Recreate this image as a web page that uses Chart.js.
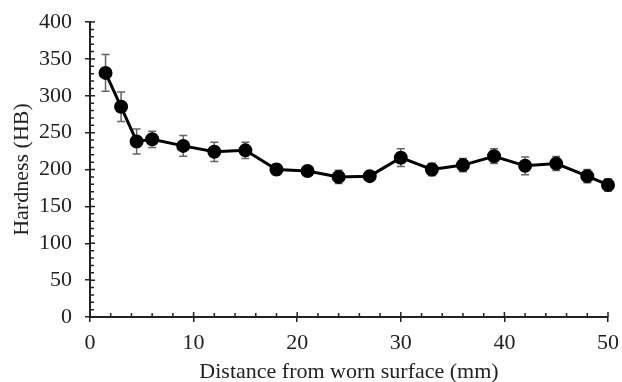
<!DOCTYPE html>
<html>
<head>
<meta charset="utf-8">
<script src="https://cdn.jsdelivr.net/npm/chart.js@4"></script>
<style>
  html, body { margin: 0; padding: 0; background: #fff; }
  #wrap { width: 622px; height: 382px; }
</style>
</head>
<body>
<div id="wrap"><canvas id="graph" width="622" height="382"></canvas></div>
<script>
// distance from worn surface (mm)
var distances = [1.5, 3, 4.5, 6, 9, 12, 15, 18, 21, 24, 27, 30, 33, 36, 39, 42, 45, 48, 50];
// hardness (HB)
var hardness = [331, 285, 238, 241, 232, 224, 226, 200, 198, 190, 191, 216, 200, 206, 218, 205, 208, 191, 179];
// +/- error
var errors = [25, 20, 17, 11, 14, 13, 11, 7, 4, 9, 5, 12, 8.5, 9, 10, 12, 9.5, 9, 8];

var xTicks = [0, 10, 20, 30, 40, 50];
var yTicks = [0, 50, 100, 150, 200, 250, 300, 350, 400];

var points = distances.map(function (d, i) { return { x: d, y: hardness[i] }; });

var errorBars = {
	id: "errorBars",
	beforeDatasetsDraw: function (chart) {
		var ctx = chart.ctx, xs = chart.scales.x, ys = chart.scales.y;
		ctx.save();
		ctx.strokeStyle = "#666";
		ctx.lineWidth = 1.5;
		for (var i = 0; i < distances.length; i++) {
			var px = xs.getPixelForValue(distances[i]);
			var top = ys.getPixelForValue(hardness[i] + errors[i]);
			var bot = ys.getPixelForValue(hardness[i] - errors[i]);
			ctx.beginPath();
			ctx.moveTo(px, top); ctx.lineTo(px, bot);
			ctx.moveTo(px - 4, top); ctx.lineTo(px + 4, top);
			ctx.moveTo(px - 4, bot); ctx.lineTo(px + 4, bot);
			ctx.stroke();
		}
		ctx.restore();
	}
};

// inner tick marks (major and minor) like the original spreadsheet chart
var innerTicks = {
	id: "innerTicks",
	afterDraw: function (chart) {
		var ctx = chart.ctx, xs = chart.scales.x, ys = chart.scales.y;
		var x0 = xs.left, y0 = ys.bottom;
		ctx.save();
		ctx.strokeStyle = "#222";
		ctx.lineWidth = 1.5;
		ctx.beginPath();
		for (var v = 0; v <= 50; v += 2) {
			var px = xs.getPixelForValue(v);
			var len = (v % 10 === 0) ? 5 : 4;
			ctx.moveTo(px, y0); ctx.lineTo(px, y0 - len);
		}
		for (var w = 0; w <= 400; w += 10) {
			var py = ys.getPixelForValue(w);
			var len2 = (w % 50 === 0) ? 5 : 4;
			ctx.moveTo(x0, py); ctx.lineTo(x0 + len2, py);
		}
		ctx.stroke();
		ctx.restore();
	}
};

var font = { family: "'Liberation Serif', 'Times New Roman', serif", size: 22 };

var ctx = document.getElementById("graph");
var graph = new Chart(ctx, {
	type: "scatter",
	data: {
		datasets: [{
			data: points,
			showLine: true,
			clip: false,
			borderColor: "#000",
			backgroundColor: "#000",
			borderWidth: 3,
			pointRadius: 5.5,
			pointBackgroundColor: "#000",
			pointBorderColor: "#000",
			tension: 0
		}]
	},
	options: {
		responsive: false,
		animation: false,
		layout: { padding: { top: 22, right: 14, left: 0, bottom: 0 } },
		plugins: { legend: { display: false }, tooltip: { enabled: false } },
		scales: {
			x: {
				type: "linear",
				min: 0, max: 50,
				afterBuildTicks: function (s) { s.ticks = xTicks.map(function (v) { return { value: v }; }); },
				afterFit: function (s) { s.height = 65; s.paddingLeft = 0; s.paddingRight = 0; },
				ticks: { color: "#222", font: font, padding: 8, maxRotation: 0 },
				grid: { drawOnChartArea: false, color: "#222", lineWidth: 1.5, tickLength: 5 },
				border: { color: "#222", width: 2 },
				title: { display: true, text: "Distance from worn surface (mm)", color: "#222", font: font, padding: { top: 0, bottom: -3 } }
			},
			y: {
				min: 0, max: 400,
				afterBuildTicks: function (s) { s.ticks = yTicks.map(function (v) { return { value: v }; }); },
				afterFit: function (s) { s.width = 90; s.paddingTop = 0; s.paddingBottom = 0; },
				ticks: { color: "#222", font: font, padding: 13 },
				grid: { drawOnChartArea: false, color: "#222", lineWidth: 1.5, tickLength: 5 },
				border: { color: "#222", width: 2 },
				title: { display: true, text: "Hardness (HB)", color: "#222", font: font, padding: { top: 9, bottom: 0 } }
			}
		}
	},
	plugins: [errorBars, innerTicks]
});
</script>
</body>
</html>
